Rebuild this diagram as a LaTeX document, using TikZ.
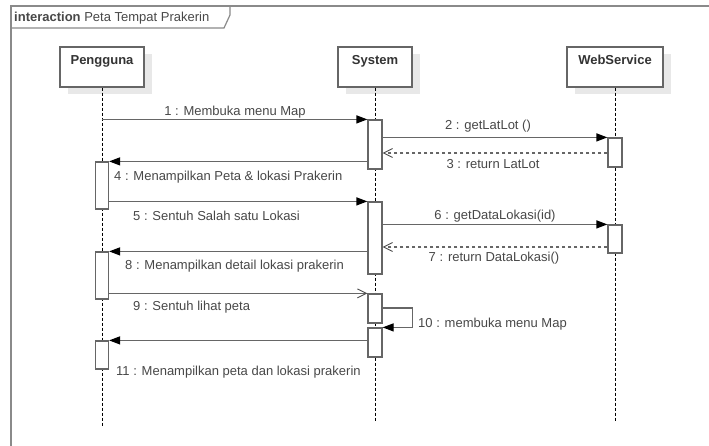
\documentclass[tikz,border=0pt]{standalone}
\usepackage{fontspec}
\setmainfont{Liberation Sans}
\usetikzlibrary{arrows.meta,shadows}
\definecolor{ln}{HTML}{666666}
\definecolor{tx}{HTML}{484848}
\definecolor{fr}{HTML}{8A8A8A}
\begin{document}
\begin{tikzpicture}[x=1pt,y=-1pt,
  every node/.style={font=\fontsize{13}{15}\selectfont, text=tx, inner sep=0pt},
  headbox/.style={draw=ln, line width=1.2pt, fill=white, minimum height=40pt,
    general shadow={fill=black!9, shadow xshift=8pt, shadow yshift=-7pt}},
  actbox/.style={draw=ln, line width=1.2pt, fill=white, minimum width=14pt},
  lifeline/.style={draw=black, line width=0.9pt, dash pattern=on 3pt off 2pt},
  msg/.style={draw=ln, line width=1.2pt, -{Triangle[length=11pt,width=8pt,color=black]}},
  amsg/.style={draw=ln, line width=1.2pt, -{Straight Barb[length=9pt,width=9pt,line width=0.9pt,color=black!70]}},
  rmsg/.style={draw=ln, line width=1.1pt, dash pattern=on 3pt off 3pt, -{Straight Barb[length=9pt,width=9pt,line width=0.9pt,color=black!70]}},
  lbl/.style={anchor=base},
  lbll/.style={anchor=base west}]
\useasboundingbox (0,0) rectangle (709,445);
\clip (0,0) rectangle (709,445);
\fill[white] (0,0) rectangle (709,445);
% frame
\draw[fr, line width=1.5pt] (720,6) -- (11,6) -- (11,460);
\draw[fr, line width=1.2pt] (11,28) -- (224,28) -- (230,15) -- (230,6);
\node[anchor=base west] (ftitle) at (14,21) {\textbf{interaction} Peta Tempat Prakerin};
% headers
\node[headbox, minimum width=84pt] (ph) at (102,67) {};
\node[lbl, font=\fontsize{13}{15}\selectfont\bfseries, text=black!80] (pht) at (102,64) {Pengguna};
\node[headbox, minimum width=74pt] (sh) at (375,67) {};
\node[lbl, font=\fontsize{13}{15}\selectfont\bfseries, text=black!80] (sht) at (375,64) {System};
\node[headbox, minimum width=96pt] (wh) at (615,67) {};
\node[lbl, font=\fontsize{13}{15}\selectfont\bfseries, text=black!80] (wht) at (615,64) {WebService};
% lifeline ends
\coordinate (pe) at (102,427);
\coordinate (se) at (375,421);
\coordinate (we) at (615,421);
\draw[lifeline] (ph.south) -- (pe);
\draw[lifeline] (sh.south) -- (se);
\draw[lifeline] (wh.south) -- (we);
% activations
\node[actbox, minimum width=13pt, minimum height=47pt] (pa1) at (102,185.5) {};
\node[actbox, minimum width=13pt, minimum height=47pt] (pa2) at (102,275.5) {};
\node[actbox, minimum width=13pt, minimum height=28pt] (pa3) at (102,355) {};
\node[actbox, minimum height=49pt] (sa1) at (375,144.5) {};
\node[actbox, minimum height=72pt] (sa2) at (375,238) {};
\node[actbox, minimum height=29pt] (sa3) at (375,308.5) {};
\node[actbox, minimum height=29pt] (sa4) at (375,342.5) {};
\node[actbox, minimum height=29pt] (wa1) at (615,152.5) {};
\node[actbox, minimum height=28pt] (wa2) at (615,239) {};
% helper y levels
\coordinate (y3) at (0,153);
\coordinate (y7) at (0,247);
\coordinate (y10) at (0,308);
% messages
\draw[msg] (ph.south |- sa1.north) -- (sa1.north west);
\node[lbl] (l1) at (235,115) {1 : Membuka menu Map};
\draw[msg] (sa1.east |- wa1.north) -- (wa1.north west);
\node[lbl] (l2) at (488,129) {2 : getLatLot ()};
\draw[rmsg] (wa1.west |- y3) -- (sa1.east |- y3);
\node[lbl] (l3) at (493,168) {3 : return LatLot};
\draw[msg] (sa1.west |- pa1.north) -- (pa1.north east);
\node[lbll] (l4) at (114,180) {4 : Menampilkan Peta \& lokasi Prakerin};
\draw[msg] (pa1.east |- sa2.north) -- (sa2.north west);
\node[lbll] (l5) at (133,220) {5 : Sentuh Salah satu Lokasi};
\draw[msg] (sa2.east |- wa2.north) -- (wa2.north west);
\node[lbl] (l6) at (495,219) {6 : getDataLokasi(id)};
\draw[rmsg] (wa2.west |- y7) -- (sa2.east |- y7);
\node[lbl] (l7) at (494,261) {7 : return DataLokasi()};
\draw[msg] (sa2.west |- pa2.north) -- (pa2.north east);
\node[lbll] (l8) at (125,269) {8 : Menampilkan detail lokasi prakerin};
\draw[amsg] (pa2.east |- sa3.north) -- (sa3.north west);
\node[lbll] (l9) at (133,310) {9 : Sentuh lihat peta};
\draw[msg] (sa3.east |- y10) -- ++(30,0) |- (sa4.north east);
\node[lbll] (l10) at (418,327) {10 : membuka menu Map};
\draw[msg] (sa4.west |- pa3.north) -- (pa3.north east);
\node[lbll] (l11) at (116,375) {11 : Menampilkan peta dan lokasi prakerin};
\end{tikzpicture}
\end{document}
